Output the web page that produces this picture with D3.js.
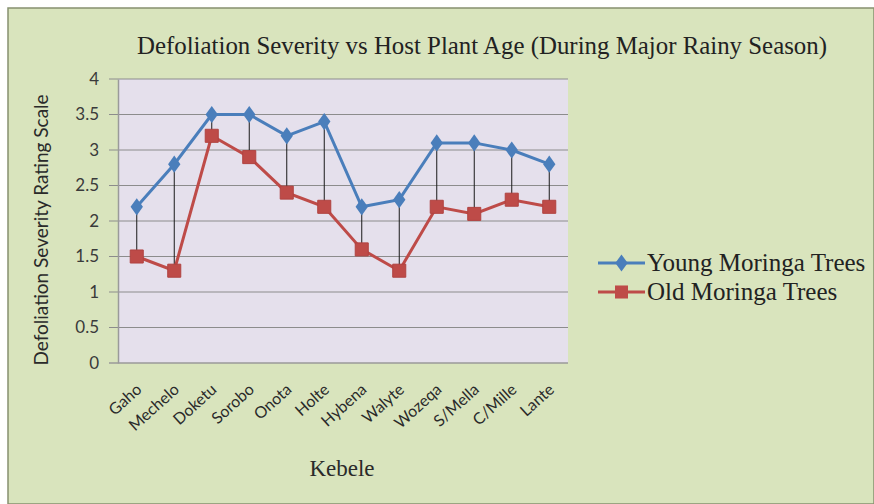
<!DOCTYPE html>
<html>
  <head>
    <meta http-equiv="Content-type" content="text/html; charset=utf-8">
    <title>Defoliation Severity vs Host Plant Age</title>
    <script src="https://cdnjs.cloudflare.com/ajax/libs/d3/7.8.5/d3.min.js"></script>
    <style>
      body { margin: 0; background: #ffffff; }
      svg { display: block; }
    </style>
  </head>
  <body>
    <div id="chart"></div>
    <script type="text/javascript">
      var kebeles = ["Gaho", "Mechelo", "Doketu", "Sorobo", "Onota", "Holte", "Hybena", "Walyte", "Wozeqa", "S/Mella", "C/Mille", "Lante"];
      var youngTrees = [2.2, 2.8, 3.5, 3.5, 3.2, 3.4, 2.2, 2.3, 3.1, 3.1, 3.0, 2.8];
      var oldTrees = [1.5, 1.3, 3.2, 2.9, 2.4, 2.2, 1.6, 1.3, 2.2, 2.1, 2.3, 2.2];
      var yTicks = [0, 0.5, 1, 1.5, 2, 2.5, 3, 3.5, 4];
      var seriesNames = ["Young Moringa Trees", "Old Moringa Trees"];

      var width = 874,
        height = 504;
      var plot = { left: 118, right: 568, top: 79, bottom: 363 };

      var blue = "#4a7ebb",
        red = "#be4b48";
      var sans = "Lato, 'Open Sans', sans-serif",
        serif = "'Liberation Serif', 'Times New Roman', serif";

      var svg = d3.select("#chart").append("svg")
        .attr("width", width)
        .attr("height", height);

      // chart area background + frame
      svg.append("rect")
        .attr("x", 0).attr("y", 0)
        .attr("width", width).attr("height", height)
        .attr("fill", "#ffffff");
      svg.append("rect")
        .attr("x", 8).attr("y", 8)
        .attr("width", width - 8).attr("height", height - 8)
        .attr("fill", "#d9e4bd")
        .attr("stroke", "#86906f")
        .attr("stroke-width", 1.5);

      var x = d3.scaleBand()
        .domain(kebeles)
        .range([plot.left, plot.right]);

      var y = d3.scaleLinear()
        .domain([0, 4])
        .range([plot.bottom, plot.top]);

      // plot area
      svg.append("rect")
        .attr("x", plot.left)
        .attr("y", plot.top)
        .attr("width", plot.right - plot.left)
        .attr("height", plot.bottom - plot.top)
        .attr("fill", "#e5e0ec");

      // gridlines (they run into the tick marks on the left)
      svg.append("g")
        .selectAll("line")
        .data(yTicks)
        .enter().append("line")
        .attr("x1", plot.left - 9)
        .attr("x2", plot.right)
        .attr("y1", function(d) { return y(d); })
        .attr("y2", function(d) { return y(d); })
        .attr("stroke", function(d) { return d === 0 ? "#9a9a9a" : "#8c8c8c"; })
        .attr("stroke-width", function(d) { return d === 0 ? 1.5 : 1; });

      // y axis
      var yAxis = svg.append("g")
        .attr("transform", "translate(" + plot.left + ",0)")
        .call(d3.axisLeft(y).tickValues(yTicks).tickSize(0).tickPadding(19)
          .tickFormat(function(d) { return String(d); }));
      yAxis.select(".domain").attr("stroke", "#9a9a9a").attr("stroke-width", 1.5);
      yAxis.selectAll("text")
        .style("font-family", sans)
        .style("font-size", "17px")
        .attr("fill", "#3a3a3a");

      // x axis labels
      var xAxis = svg.append("g")
        .attr("transform", "translate(0," + plot.bottom + ")")
        .call(d3.axisBottom(x).tickSize(0).tickPadding(0));
      xAxis.select(".domain").remove();
      xAxis.selectAll("text")
        .style("font-family", sans)
        .style("font-size", "16px")
        .attr("fill", "#2a2a2a")
        .attr("text-anchor", "end")
        .attr("dy", null)
        .attr("transform", "translate(6,28) rotate(-42)");

      // high-low drop lines
      svg.append("g")
        .selectAll("line")
        .data(kebeles)
        .enter().append("line")
        .attr("x1", function(d) { return x(d) + x.bandwidth() / 2; })
        .attr("x2", function(d) { return x(d) + x.bandwidth() / 2; })
        .attr("y1", function(d, i) { return y(youngTrees[i]); })
        .attr("y2", function(d, i) { return y(oldTrees[i]); })
        .attr("stroke", "#1a1a1a")
        .attr("stroke-width", 1);

      var line = d3.line()
        .x(function(d, i) { return x(kebeles[i]) + x.bandwidth() / 2; })
        .y(function(d) { return y(d); });

      svg.append("path")
        .datum(oldTrees)
        .attr("d", line)
        .attr("fill", "none")
        .attr("stroke", red)
        .attr("stroke-width", 3);

      svg.append("path")
        .datum(youngTrees)
        .attr("d", line)
        .attr("fill", "none")
        .attr("stroke", blue)
        .attr("stroke-width", 3);

      var square = d3.symbol().type(d3.symbolSquare).size(170);
      var diamond = d3.symbol().type(d3.symbolDiamond).size(85);

      svg.append("g")
        .selectAll("path")
        .data(oldTrees)
        .enter().append("path")
        .attr("d", square)
        .attr("transform", function(d, i) { return "translate(" + (x(kebeles[i]) + x.bandwidth() / 2) + "," + y(d) + ")"; })
        .attr("fill", red)
        .attr("stroke", "#b04340")
        .attr("stroke-width", 1);

      svg.append("g")
        .selectAll("path")
        .data(youngTrees)
        .enter().append("path")
        .attr("d", diamond)
        .attr("transform", function(d, i) { return "translate(" + (x(kebeles[i]) + x.bandwidth() / 2) + "," + y(d) + ") scale(1.25,1)"; })
        .attr("fill", blue);

      // title
      svg.append("text")
        .attr("x", 482)
        .attr("y", 54)
        .attr("text-anchor", "middle")
        .attr("textLength", 690)
        .attr("lengthAdjust", "spacingAndGlyphs")
        .style("font-family", serif)
        .style("font-size", "26px")
        .attr("fill", "#222222")
        .text("Defoliation Severity vs Host Plant Age (During Major Rainy Season)");

      // axis titles
      svg.append("text")
        .attr("transform", "translate(48,230) rotate(-90)")
        .attr("text-anchor", "middle")
        .style("font-family", sans)
        .style("font-size", "19px")
        .attr("fill", "#2a2a2a")
        .text("Defoliation Severity Rating Scale");

      svg.append("text")
        .attr("x", 342)
        .attr("y", 476)
        .attr("text-anchor", "middle")
        .style("font-family", serif)
        .style("font-size", "23px")
        .attr("fill", "#2a2a2a")
        .text("Kebele");

      // legend
      var legend = svg.append("g");
      var legendItems = legend.selectAll("g")
        .data(seriesNames)
        .enter().append("g")
        .attr("transform", function(d, i) { return "translate(598," + (263 + i * 29) + ")"; });
      legendItems.append("line")
        .attr("x1", 0).attr("x2", 47)
        .attr("stroke", function(d, i) { return i === 0 ? blue : red; })
        .attr("stroke-width", 3);
      legendItems.append("path")
        .attr("d", function(d, i) { return i === 0 ? diamond() : square(); })
        .attr("transform", function(d, i) { return i === 0 ? "translate(23.5,0) scale(1.25,1)" : "translate(23.5,0)"; })
        .attr("fill", function(d, i) { return i === 0 ? blue : red; });
      legendItems.append("text")
        .attr("x", 49)
        .attr("y", 8)
        .style("font-family", serif)
        .style("font-size", "25px")
        .attr("fill", "#222222")
        .text(function(d) { return d; });
    </script>
  </body>
</html>
